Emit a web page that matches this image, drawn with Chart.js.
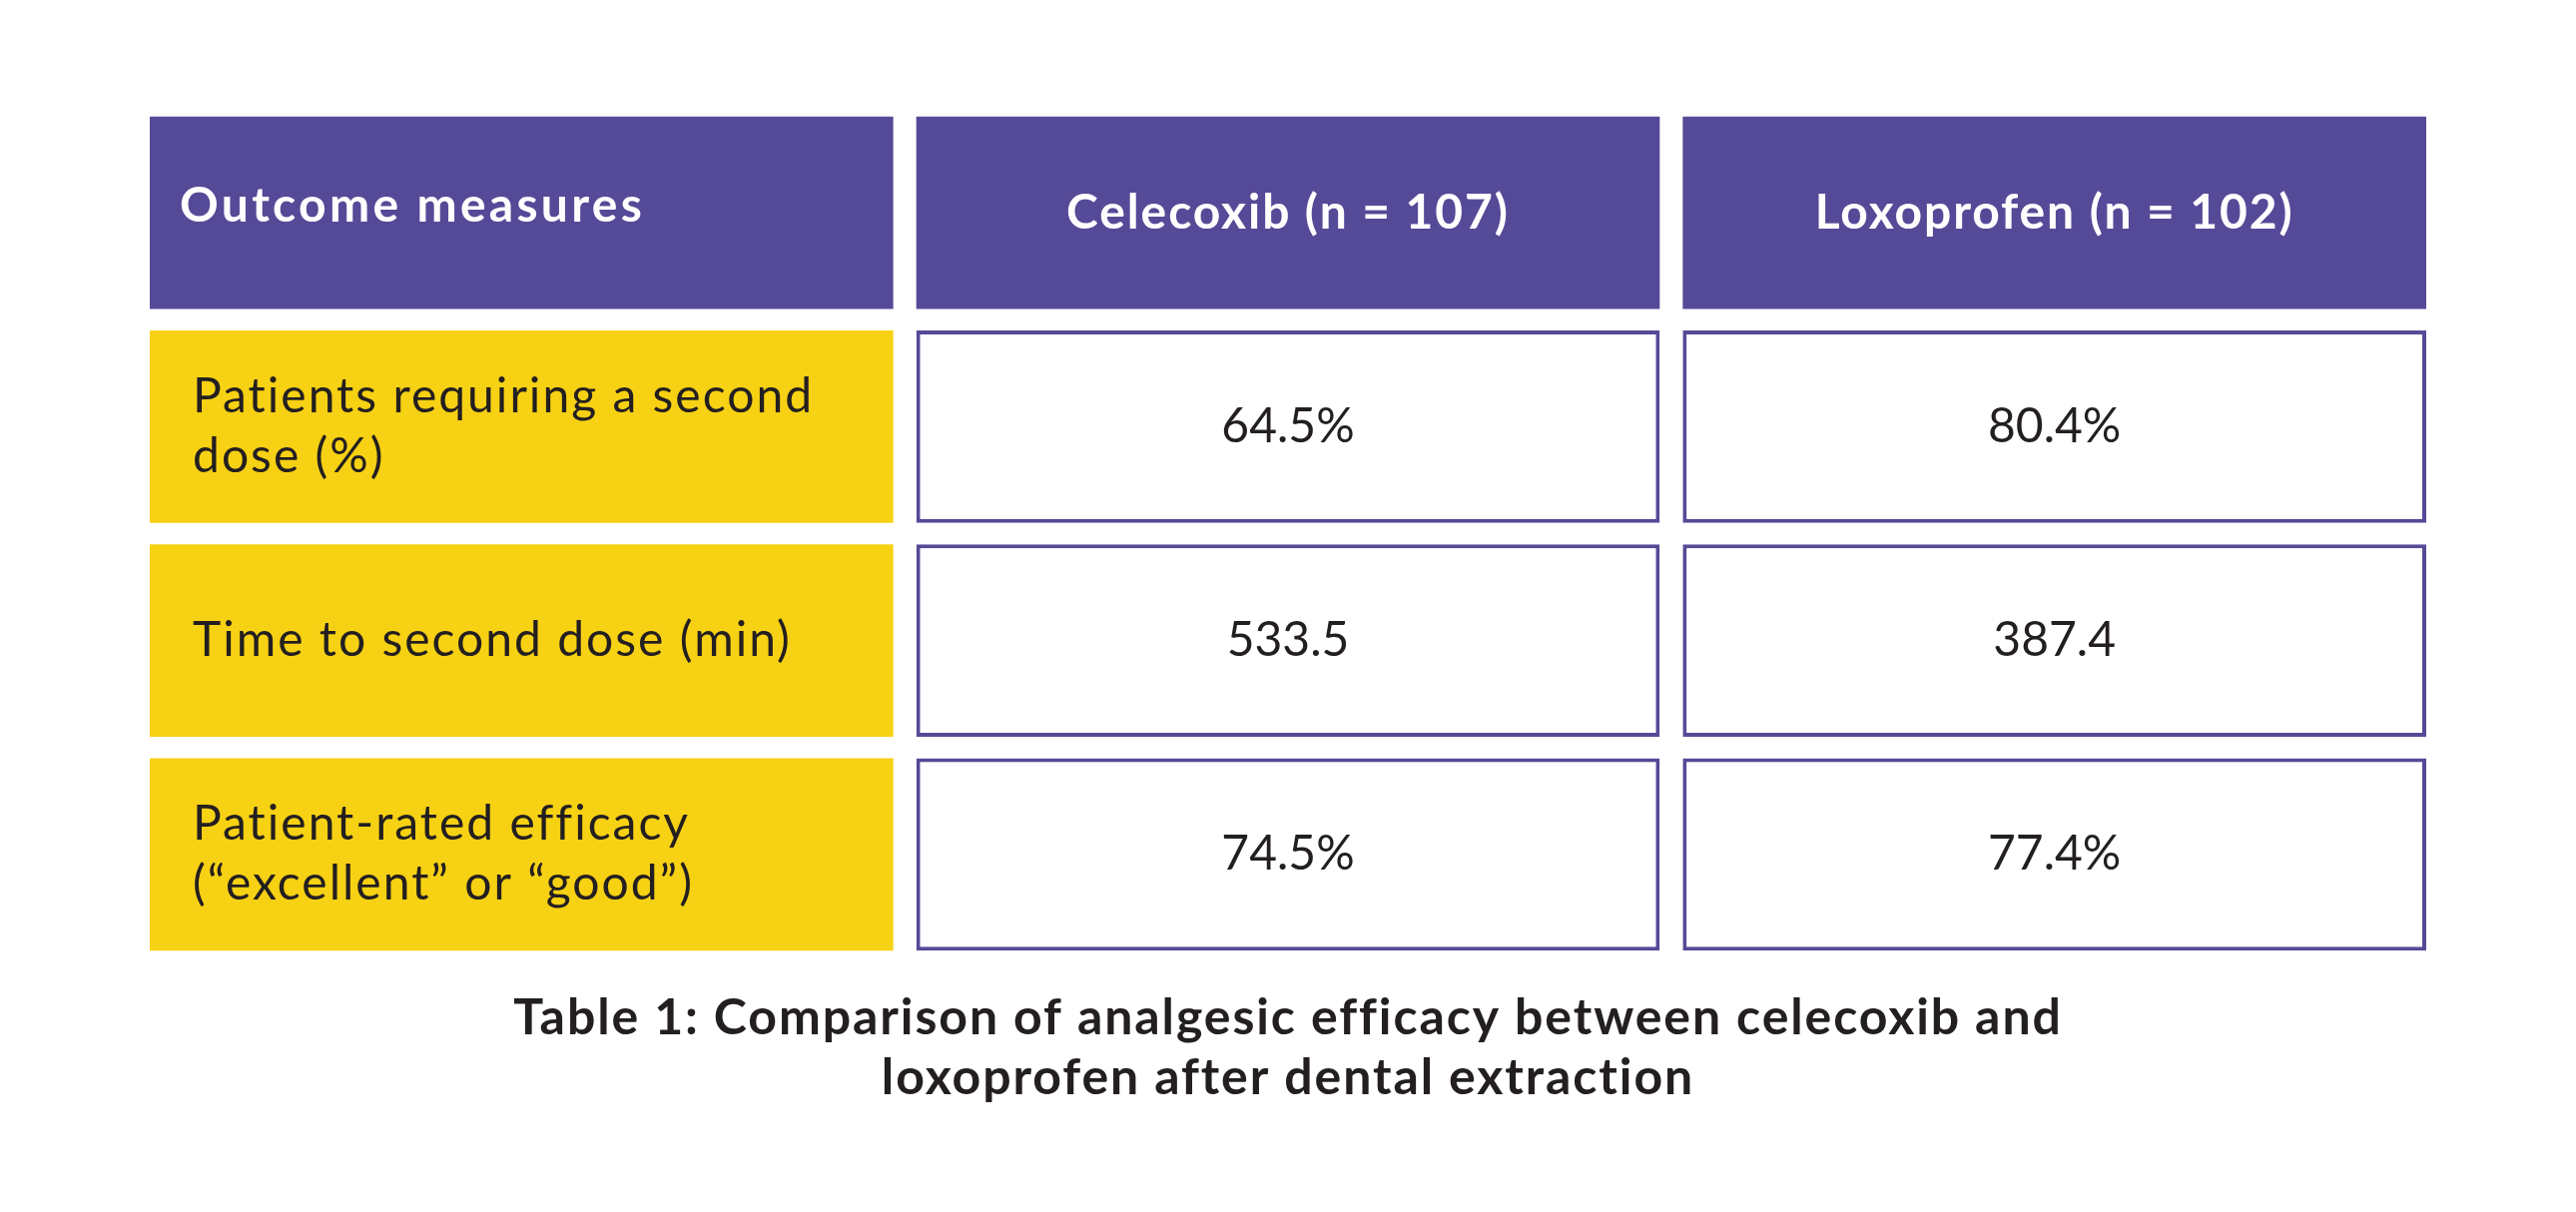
<!DOCTYPE html>
<html>
<head>
<meta charset="utf-8">
<title>Table 1: celecoxib vs loxoprofen</title>
<script src="https://cdn.jsdelivr.net/npm/chart.js@4.4.1/dist/chart.umd.min.js"></script>
<style>
  html, body { margin: 0; padding: 0; background: #ffffff; }
  #wrap { width: 2580px; height: 1214px; position: relative; }
</style>
</head>
<body>
<div id="wrap"><canvas id="table"></canvas></div>
<script>
// table content
const headers = ['Outcome measures', 'Celecoxib (n = 107)', 'Loxoprofen (n = 102)'];
const outcomes = [
    ['Patients requiring a second', 'dose (%)'],
    ['Time to second dose (min)'],
    ['Patient-rated efficacy', '(\u201cexcellent\u201d or \u201cgood\u201d)']
];
const celecoxib = [64.5, 533.5, 74.5];
const loxoprofen = [80.4, 387.4, 77.4];
const units = ['%', '', '%'];
const caption = ['Table 1: Comparison of analgesic efficacy between celecoxib and', 'loxoprofen after dental extraction'];

const PURPLE = '#554a97';
const YELLOW = '#f7d113';
const INK = '#231f20';
const GAP = 0.03;

// one category per table row, header first
const rowLabels = [headers[0]].concat(outcomes.map(o => o.join(' ')));
const columns = [null, celecoxib, loxoprofen];

function cellText(col, row) {
    if (row === 0) return [headers[col]];
    if (col === 0) return outcomes[row - 1];
    const v = columns[col][row - 1];
    return [v.toFixed(1) + units[row - 1]];
}

const datasets = columns.map((_, col) => ({
    label: headers[col],
    data: rowLabels.map(() => [col, col + 1 - GAP]),
    backgroundColor: rowLabels.map((_, row) => row === 0 ? PURPLE : (col === 0 ? YELLOW : '#ffffff')),
    borderColor: PURPLE,
    borderWidth: rowLabels.map((_, row) => (row > 0 && col > 0) ? 4 : 0),
    borderSkipped: false,
    grouped: false,
    barPercentage: 0.9,
    categoryPercentage: 1
}));

// Lato is narrower than the original face, so the caption gets a little tracking
const spacingPlugin = {
    id: 'spacing',
    beforeDraw(chart) { chart.ctx.letterSpacing = '1.9px'; },
    beforeDatasetsDraw(chart) { chart.ctx.letterSpacing = '0px'; }
};

const cellTextPlugin = {
    id: 'cellText',
    afterDatasetsDraw(chart) {
        const c = chart.ctx;
        c.save();
        chart.data.datasets.forEach((ds, col) => {
            const meta = chart.getDatasetMeta(col);
            meta.data.forEach((bar, row) => {
                const p = bar.getProps(['x', 'y', 'base'], true);
                const left = Math.min(p.x, p.base);
                const right = Math.max(p.x, p.base);
                const lines = cellText(col, row);
                const lh = 60;
                let tx, cy = p.y;
                if (row === 0) {
                    c.font = 'bold 48px Lato';
                    c.fillStyle = '#ffffff';
                    c.letterSpacing = col === 0 ? '3.3px' : '1.9px';
                } else {
                    c.font = '48px Lato';
                    c.fillStyle = INK;
                    c.letterSpacing = col === 0 ? '2px' : '0px';
                }
                if (col === 0) {
                    c.textAlign = 'left';
                    tx = left + (row === 0 ? 30 : 43);
                    if (row === 0) cy -= 7;
                } else {
                    c.textAlign = 'center';
                    tx = (left + right) / 2;
                }
                c.textBaseline = 'middle';
                const y0 = cy - (lines.length - 1) * lh / 2;
                lines.forEach((t, i) => c.fillText(t, tx, y0 + i * lh));
            });
        });
        c.restore();
    }
};

new Chart(document.getElementById('table'), {
    type: 'bar',
    data: { labels: rowLabels, datasets: datasets },
    options: {
        indexAxis: 'y',
        responsive: true,
        maintainAspectRatio: false,
        devicePixelRatio: 1,
        animation: false,
        layout: { padding: { left: 150, right: 150, top: 106, bottom: 104 } },
        scales: {
            x: { type: 'linear', min: 0, max: 3 - GAP, display: false },
            y: { type: 'category', display: false, offset: true }
        },
        plugins: {
            legend: { display: false },
            tooltip: { enabled: false },
            title: {
                display: true,
                position: 'bottom',
                text: caption,
                color: INK,
                font: { family: 'Lato', size: 50, weight: 'bold', lineHeight: 1.2 },
                padding: { top: 27, bottom: 0 }
            }
        }
    },
    plugins: [spacingPlugin, cellTextPlugin]
});
</script>
</body>
</html>
